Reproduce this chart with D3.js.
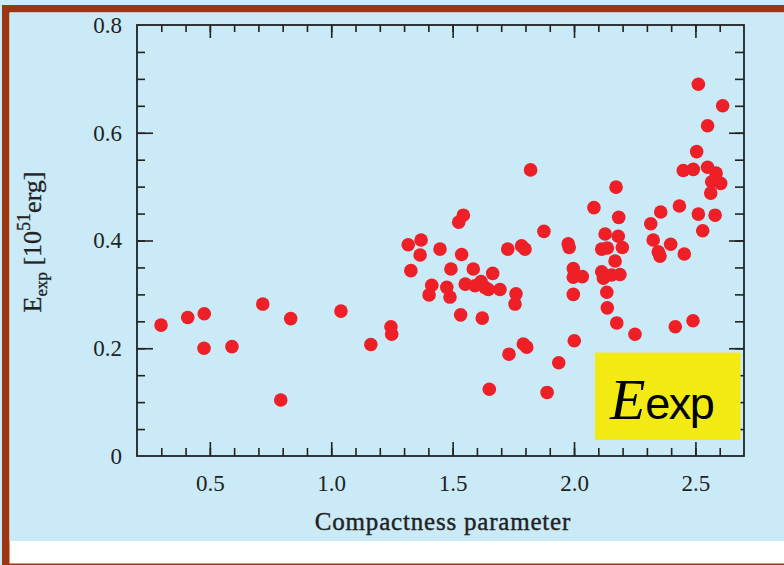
<!DOCTYPE html>
<html>
<head>
<meta charset="utf-8">
<script src="https://cdn.jsdelivr.net/npm/d3@7"></script>
<style>
  html, body { margin: 0; padding: 0; background: #caeaf8; }
  svg { display: block; }
</style>
</head>
<body>
<div id="chart-area"></div>
<script>
// DATA
var compactness = [
  0.299, 0.409, 0.477, 0.476, 0.591, 0.718, 0.792, 0.833, 1.040, 1.163,
  1.246, 1.249, 1.317, 1.370, 1.366, 1.328, 1.414, 1.403, 1.448, 1.493,
  1.476, 1.489, 1.533, 1.537, 1.525, 1.544, 1.552, 1.585, 1.592, 1.617,
  1.647, 1.665, 1.695, 1.622, 1.651, 1.727, 1.732, 1.761, 1.757, 1.784,
  1.798, 1.791, 1.805, 1.821, 1.876, 1.889, 1.937, 1.976, 1.980, 1.997,
  1.997, 2.034, 1.997, 2.001, 2.082, 2.173, 2.184, 2.128, 2.182, 2.114,
  2.137, 2.199, 2.169, 2.114, 2.121, 2.155, 2.189, 2.135, 2.137, 2.176,
  2.251, 2.316, 2.357, 2.326, 2.347, 2.354, 2.398, 2.434, 2.454, 2.417,
  2.490, 2.450, 2.491, 2.505, 2.550, 2.585, 2.567, 2.604, 2.563, 2.512,
  2.581, 2.530, 2.512, 2.612, 2.550, 1.633
];
var energy = [
  0.243, 0.257, 0.264, 0.200, 0.203, 0.282, 0.104, 0.255, 0.269, 0.207,
  0.240, 0.226, 0.392, 0.401, 0.373, 0.344, 0.317, 0.299, 0.384, 0.347,
  0.313, 0.295, 0.262, 0.374, 0.434, 0.447, 0.319, 0.347, 0.316, 0.324,
  0.309, 0.339, 0.309, 0.256, 0.124, 0.384, 0.189, 0.301, 0.282, 0.390,
  0.384, 0.208, 0.202, 0.531, 0.417, 0.118, 0.173, 0.394, 0.387, 0.348,
  0.332, 0.333, 0.300, 0.214, 0.461, 0.499, 0.443, 0.412, 0.408, 0.384,
  0.386, 0.387, 0.362, 0.342, 0.330, 0.336, 0.337, 0.304, 0.275, 0.247,
  0.226, 0.431, 0.453, 0.401, 0.379, 0.371, 0.393, 0.464, 0.375, 0.240,
  0.251, 0.530, 0.532, 0.565, 0.536, 0.525, 0.509, 0.506, 0.488, 0.449,
  0.447, 0.418, 0.690, 0.650, 0.613, 0.313
];
var xTickValues = [0.5, 1.0, 1.5, 2.0, 2.5];
var xTickLabels = ["0.5", "1.0", "1.5", "2.0", "2.5"];
var yTickValues = [0, 0.2, 0.4, 0.6, 0.8];
var yTickLabels = ["0", "0.2", "0.4", "0.6", "0.8"];

var points = compactness.map(function (c, i) { return { x: c, y: energy[i] }; });

//INITIAL SETUP
var W = 784, H = 565;
var plot = { left: 137, right: 744, top: 25, bottom: 456 };
var brown = '#9b3513', sky = '#caeaf8', ink = '#222';
var serif = '"Liberation Serif", "Times New Roman", serif';

var svg = d3.select('#chart-area')
  .append('svg')
  .attr('width', W)
  .attr('height', H);

// panel frame
svg.append('rect').attr('width', W).attr('height', H).attr('fill', sky);
svg.append('rect').attr('x', 2).attr('y', 5).attr('width', W + 20).attr('height', H).attr('fill', brown);
svg.append('rect').attr('x', 9.5).attr('y', 12.5).attr('width', W + 20).attr('height', 551).attr('fill', '#fff');
svg.append('rect').attr('x', 9.5).attr('y', 12.5).attr('width', W + 20).attr('height', 528.5).attr('fill', sky);

//SCALES
var x = d3.scaleLinear().domain([0.2, 2.7]).range([plot.left, plot.right]);
var y = d3.scaleLinear().domain([0, 0.8]).range([plot.bottom, plot.top]);

var xMinor = d3.range(3, 27).map(function (d) { return d / 10; });
var yMinor = d3.range(1, 16).map(function (d) { return d / 20; });

function tickGroup(axis, tx, ty) {
  var g = svg.append('g')
    .attr('transform', 'translate(' + tx + ',' + ty + ')')
    .call(axis);
  g.select('.domain').remove();
  g.selectAll('.tick line').attr('stroke', ink).attr('stroke-width', 1.6);
  g.selectAll('.tick text').remove();
  return g;
}

// inward ticks on all four sides
tickGroup(d3.axisTop(x).tickValues(xMinor).tickSize(8), 0, plot.bottom);
tickGroup(d3.axisTop(x).tickValues(xTickValues).tickSize(14), 0, plot.bottom);
tickGroup(d3.axisBottom(x).tickValues(xMinor).tickSize(7), 0, plot.top);
tickGroup(d3.axisBottom(x).tickValues(xTickValues).tickSize(13), 0, plot.top);
tickGroup(d3.axisRight(y).tickValues(yMinor).tickSize(8), plot.left, 0);
tickGroup(d3.axisRight(y).tickValues([0.2, 0.4, 0.6]).tickSize(16), plot.left, 0);
tickGroup(d3.axisLeft(y).tickValues(yMinor).tickSize(9), plot.right, 0);
tickGroup(d3.axisLeft(y).tickValues([0.2, 0.4, 0.6]).tickSize(15), plot.right, 0);

// tick labels
var xLab = svg.append('g')
  .attr('transform', 'translate(0,' + plot.bottom + ')')
  .call(d3.axisBottom(x).tickValues(xTickValues).tickSize(0).tickPadding(19)
    .tickFormat(function (d, i) { return xTickLabels[i]; }));
xLab.select('.domain').remove();
xLab.selectAll('text').attr('font-family', serif).attr('font-size', 23).attr('fill', ink);

var yLab = svg.append('g')
  .attr('transform', 'translate(' + plot.left + ',0)')
  .call(d3.axisLeft(y).tickValues(yTickValues).tickSize(0).tickPadding(15)
    .tickFormat(function (d, i) { return yTickLabels[i]; }));
yLab.select('.domain').remove();
yLab.selectAll('text').attr('font-family', serif).attr('font-size', 23).attr('fill', ink);

// plot box
svg.append('rect')
  .attr('x', plot.left).attr('y', plot.top)
  .attr('width', plot.right - plot.left).attr('height', plot.bottom - plot.top)
  .attr('fill', 'none').attr('stroke', ink).attr('stroke-width', 1.8);

//LABELS
svg.append('text')
  .attr('x', 443).attr('y', 530)
  .attr('text-anchor', 'middle')
  .attr('font-family', serif).attr('font-size', 25)
  .attr('letter-spacing', 0.8)
  .attr('fill', ink).attr('stroke', ink).attr('stroke-width', 0.4)
  .text('Compactness parameter');

var yTitle = svg.append('text')
  .attr('transform', 'translate(41,242) rotate(-90)')
  .attr('text-anchor', 'middle')
  .attr('font-family', serif).attr('font-size', 26)
  .attr('fill', ink).attr('stroke', ink).attr('stroke-width', 0.3);
yTitle.append('tspan').text('E');
yTitle.append('tspan').attr('dy', 6).attr('font-size', 17).text('exp');
yTitle.append('tspan').attr('dy', -6).text(' [10');
yTitle.append('tspan').attr('dy', -11).attr('font-size', 18).text('51');
yTitle.append('tspan').attr('dy', 11).text('erg]');

// DOTS
svg.append('g').selectAll('circle')
  .data(points)
  .enter()
  .append('circle')
  .attr('cx', function (d) { return x(d.x); })
  .attr('cy', function (d) { return y(d.y); })
  .attr('r', 6.8)
  .attr('fill', '#ee1f26');

// yellow label box
var bx0 = x(2.086), bx1 = x(2.686), by0 = y(0.192), by1 = y(0.03);
svg.append('rect')
  .attr('x', bx0).attr('y', by0)
  .attr('width', bx1 - bx0).attr('height', by1 - by0)
  .attr('fill', '#f2ea12');
var tag = svg.append('text')
  .attr('x', bx0 + 15).attr('y', by0 + 66)
  .attr('fill', '#000');
tag.append('tspan')
  .attr('font-family', serif).attr('font-style', 'italic').attr('font-size', 58)
  .text('E');
tag.append('tspan')
  .attr('font-family', '"Liberation Sans", Arial, sans-serif').attr('font-size', 45)
  .attr('letter-spacing', -1.5)
  .text('exp');
</script>
</body>
</html>
